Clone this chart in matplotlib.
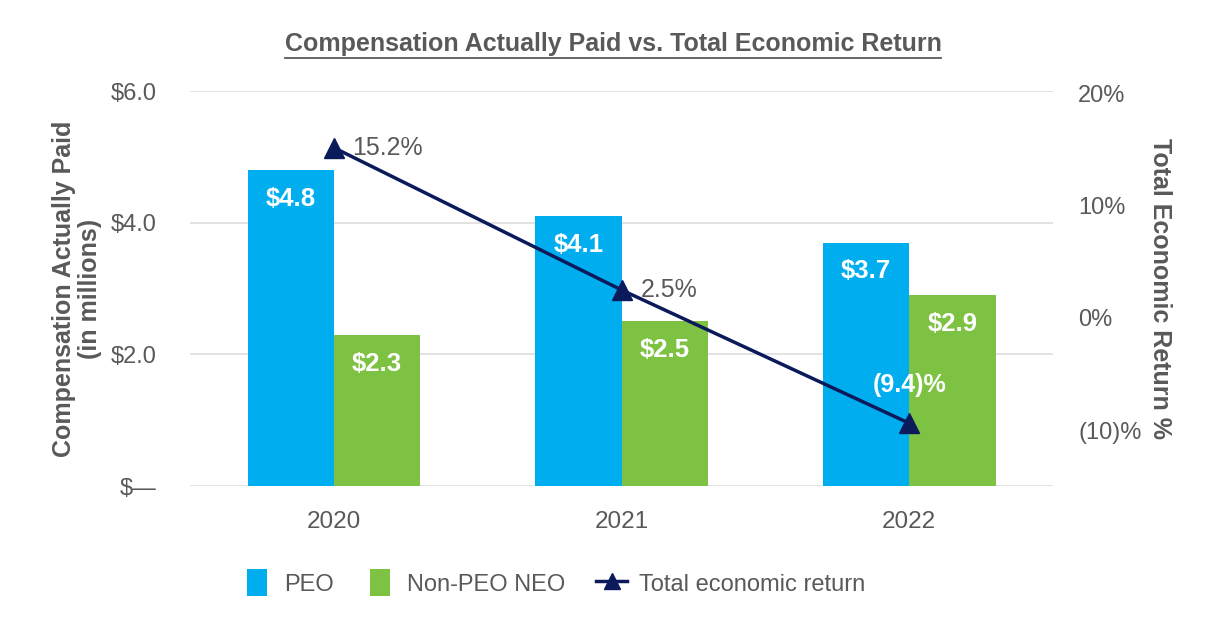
import matplotlib

matplotlib.use("Agg")
import matplotlib.pyplot as plt
from matplotlib.lines import Line2D
from matplotlib.patches import Patch, Rectangle
from matplotlib.legend_handler import HandlerPatch
import numpy as np

years = ["2020", "2021", "2022"]
peo = [4.8, 4.1, 3.7]
non_peo = [2.3, 2.5, 2.9]
ter = [15.2, 2.5, -9.4]
ter_labels = ["15.2%", "2.5%", "(9.4)%"]
left_ticks = [0, 2, 4, 6]
left_ticklabels = ["$\u2014", "$2.0", "$4.0", "$6.0"]
right_ticks = [-10, 0, 10, 20]
right_ticklabels = ["(10)%", "0%", "10%", "20%"]

BLUE = "#00AEEF"
GREEN = "#7DC242"
NAVY = "#0B1A5A"
GRAY = "#595959"

plt.rcParams["font.family"] = ["Liberation Sans", "DejaVu Sans"]

fig = plt.figure(figsize=(12.26, 6.4), dpi=100)
ax = fig.add_axes([0.155, 0.2406, 0.704, 0.617])
ax2 = ax.twinx()

x = np.arange(len(years))
w = 0.3
b1 = ax.bar(x - w / 2, peo, w, color=BLUE, zorder=2)
b2 = ax.bar(x + w / 2, non_peo, w, color=GREEN, zorder=2)
for bars, vals in ((b1, peo), (b2, non_peo)):
    for rect, v in zip(bars, vals):
        ax.text(rect.get_x() + rect.get_width() / 2, v - 0.44, f"${v:.1f}", ha="center",
                va="center", color="white", fontsize=18.5, fontweight="bold", zorder=3)

ax.set_xlim(-0.5, 2.5)
ax.set_ylim(0, 6)
ax.set_yticks(left_ticks)
ax.set_yticklabels(left_ticklabels)
ax.set_xticks(x)
ax.set_xticklabels(years)
ax.grid(axis="y", color="#DDDDDD", linewidth=1.2, zorder=0)
ax.set_axisbelow(True)
for sp in ax.spines.values():
    sp.set_visible(False)
for sp in ax2.spines.values():
    sp.set_visible(False)
ax.tick_params(axis="y", length=0, pad=24, labelsize=17, labelcolor=GRAY)
ax.tick_params(axis="x", length=0, pad=18, labelsize=17.5, labelcolor=GRAY)
ax.set_ylabel("Compensation Actually Paid\n(in millions)", fontsize=18, fontweight="bold",
              color=GRAY, labelpad=6, linespacing=1.15)

ax2.plot(x, ter, color=NAVY, linewidth=2.5, marker="^", markersize=14, zorder=4)
ax2.set_ylim(-15, 20.25)
ax2.set_yticks(right_ticks)
ax2.set_yticklabels(right_ticklabels)
ax2.tick_params(axis="y", length=0, pad=18, labelsize=17, labelcolor=GRAY)
ax2.set_ylabel("Total Economic Return %", fontsize=18, fontweight="bold", color=GRAY,
               rotation=-90, labelpad=22)

ax2.text(x[0] + 0.065, ter[0], ter_labels[0], ha="left", va="center", fontsize=18, color=GRAY)
ax2.text(x[1] + 0.065, ter[1], ter_labels[1], ha="left", va="center", fontsize=18, color=GRAY)
ax2.text(x[2], ter[2] + 3.4, ter_labels[2], ha="center", va="center", fontsize=18,
         color="white", fontweight="bold")

title = fig.text(0.5, 0.932, "Compensation Actually Paid vs. Total Economic Return", ha="center",
                 va="center", fontsize=18, fontweight="bold", color=GRAY)
fig.canvas.draw()
bb = title.get_window_extent().transformed(fig.transFigure.inverted())
fig.add_artist(Line2D([bb.x0, bb.x1], [bb.y0 - 0.004, bb.y0 - 0.004], transform=fig.transFigure,
                      color=GRAY, linewidth=1.3))


def narrow_patch(legend, orig_handle, xdescent, ydescent, width, height, fontsize):
    pw = width * 0.65
    return Rectangle((-xdescent + (width - pw) / 2, -ydescent - height * 0.15), pw, height * 1.3)


handles = [
    Patch(facecolor=BLUE, label="PEO"),
    Patch(facecolor=GREEN, label="Non-PEO NEO"),
    Line2D([], [], color=NAVY, linewidth=2.5, marker="^", markersize=12, label="Total economic return"),
]
leg = fig.legend(handles=handles, loc="center left", bbox_to_anchor=(0.18, 0.088), ncol=3,
                 frameon=False, handlelength=1.3, handleheight=1.0, columnspacing=1.3,
                 handletextpad=0.5, prop={"size": 17},
                 handler_map={Patch: HandlerPatch(patch_func=narrow_patch)})
for t in leg.get_texts():
    t.set_color(GRAY)

fig.savefig("out.png", dpi=100)
